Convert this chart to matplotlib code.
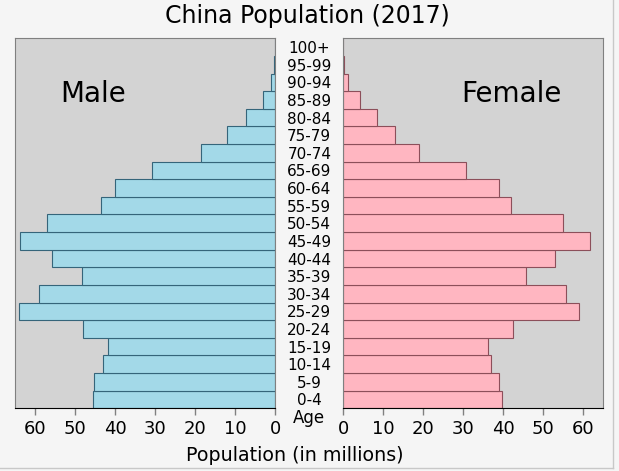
import matplotlib
matplotlib.use('Agg')
import matplotlib.pyplot as plt

# age groups, bottom to top
ages = ['0-4', '5-9', '10-14', '15-19', '20-24', '25-29', '30-34', '35-39',
        '40-44', '45-49', '50-54', '55-59', '60-64', '65-69', '70-74',
        '75-79', '80-84', '85-89', '90-94', '95-99', '100+']

# population in millions
male = [45.6, 45.2, 42.9, 41.7, 47.9, 63.9, 59.1, 48.2, 55.8, 63.7, 57.0,
        43.4, 39.9, 30.7, 18.4, 12.1, 7.2, 3.0, 1.0, 0.3, 0.03]
female = [39.7, 38.9, 36.9, 36.3, 42.6, 59.0, 55.9, 45.9, 53.1, 61.7, 55.1,
          42.0, 39.1, 30.8, 19.0, 13.0, 8.5, 4.1, 1.25, 0.25, 0.05]

ticks = [0, 10, 20, 30, 40, 50, 60]

fig = plt.figure(figsize=(6.19, 4.71), dpi=100, facecolor='#f5f5f5')
ax_m = fig.add_axes([0.0242, 0.1331, 0.4201, 0.7856])
ax_f = fig.add_axes([0.5546, 0.1331, 0.4191, 0.7856])

y = range(len(ages))
ax_m.barh(y, male, height=1.0, color='#a3d9e8', edgecolor='#35657a', linewidth=0.8)
ax_f.barh(y, female, height=1.0, color='#ffb6c1', edgecolor='#8c4f5a', linewidth=0.8)

for ax in (ax_m, ax_f):
    ax.set_facecolor('#d3d3d3')
    ax.set_ylim(-0.5, len(ages) - 0.5)
    ax.set_xticks(ticks)
    ax.tick_params(axis='x', colors='#808080', labelcolor='black',
                   labelsize=13, length=5, width=1)
    for s in ('top', 'left', 'right'):
        ax.spines[s].set_color('#808080')
    ax.spines['bottom'].set_color('black')

ax_m.set_xlim(65, 0)
ax_f.set_xlim(0, 65)
ax_m.set_yticks([])

ax_f.set_yticks(list(y))
ax_f.set_yticklabels(ages, ha='center', fontsize=11)
ax_f.tick_params(axis='y', length=0, pad=24.5)

ax_m.text(0.3, 0.85, 'Male', transform=ax_m.transAxes, fontsize=20,
          ha='center', va='center')
ax_f.text(0.65, 0.85, 'Female', transform=ax_f.transAxes, fontsize=20,
          ha='center', va='center')

fig.text(0.499, 0.112, 'Age', ha='center', va='center', fontsize=12)
fig.text(0.4766, 0.032, 'Population (in millions)', ha='center', va='center',
         fontsize=13.7)
fig.text(0.497, 0.966, 'China Population (2017)', ha='center', va='center',
         fontsize=17)

# thin frame at the right and bottom edge of the image
fig.add_artist(plt.Line2D([0.991, 0.991], [0.006, 1], color='#c8c8c8', lw=1))
fig.add_artist(plt.Line2D([0, 0.991], [0.006, 0.006], color='#c8c8c8', lw=1))

fig.savefig('out.png', dpi=100, facecolor=fig.get_facecolor())
